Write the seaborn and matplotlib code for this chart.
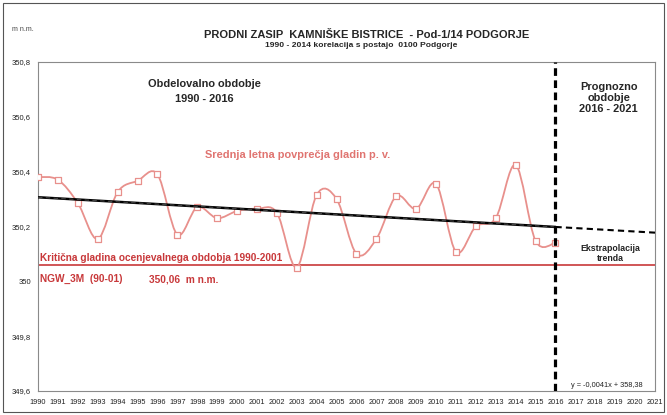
import numpy as np
import pandas as pd
import seaborn as sns
import matplotlib.pyplot as plt
from matplotlib.path import Path
from matplotlib.patches import PathPatch, Rectangle

# data
years = list(range(1990, 2017))
levels = [350.38, 350.37, 350.285, 350.154, 350.325, 350.366, 350.39, 350.17,
          350.27, 350.23, 350.256, 350.264, 350.25, 350.05, 350.315, 350.30,
          350.10, 350.154, 350.31, 350.264, 350.355, 350.107, 350.20, 350.23,
          350.424, 350.147, 350.14]
critical_level = 350.06
split_year = 2016
x_ticks = list(range(1990, 2022))
y_ticks = [349.6, 349.8, 350.0, 350.2, 350.4, 350.6, 350.8]
y_labels = ["349,6", "349,8", "350", "350,2", "350,4", "350,6", "350,8"]

series_color = "#e8908c"
crit_color = "#c8383a"

sns.set_theme(style="white")
plt.rcParams['font.family'] = ['Liberation Sans', 'DejaVu Sans']

df = pd.DataFrame({"year": years, "level": levels})

fig = plt.figure(figsize=(6.67, 4.15), dpi=100)
ax = fig.add_axes([0.057, 0.058, 0.925, 0.793])

# smoothed line (Excel-style bezier through the points)
x = df["year"].to_numpy(float)
y = df["level"].to_numpy(float)
verts = [(x[0], y[0])]
codes = [Path.MOVETO]
for i in range(len(x) - 1):
    xp, yp = (x[i - 1], y[i - 1]) if i > 0 else (x[i], y[i])
    xn, yn = (x[i + 2], y[i + 2]) if i + 2 < len(x) else (x[i + 1], y[i + 1])
    c1 = (x[i] + (x[i + 1] - xp) / 6, y[i] + (y[i + 1] - yp) / 6)
    c2 = (x[i + 1] - (xn - x[i]) / 6, y[i + 1] - (yn - y[i]) / 6)
    verts += [c1, c2, (x[i + 1], y[i + 1])]
    codes += [Path.CURVE4] * 3
ax.add_patch(PathPatch(Path(verts, codes), facecolor="none",
                       edgecolor=series_color, lw=1.3, zorder=3))

sns.scatterplot(data=df, x="year", y="level", ax=ax, marker="s", s=22,
                facecolor="white", edgecolor=series_color, linewidth=0.9,
                zorder=4, legend=False)

# linear trend
slope, intercept = np.polyfit(x, y, 1)
xa = np.array([1990, split_year])
xb = np.array([split_year, 2021])
ax.plot(xa, slope * xa + intercept, color="black", lw=1.8, zorder=5)
ax.plot(xa, slope * xa + intercept, color="#444444", lw=0.8,
        dashes=(4, 3), zorder=5)
ax.plot(xb, slope * xb + intercept, color="black", lw=1.5,
        dashes=(3, 2), zorder=5)

ax.axhline(critical_level, color=crit_color, lw=1.2, zorder=2)
ax.axvline(split_year, color="black", lw=2.3, dashes=(2.4, 1.4), zorder=6)

ax.set_xlim(1990, 2021)
ax.set_ylim(349.6, 350.8)
ax.set_xticks(x_ticks)
ax.set_xticklabels([str(t) for t in x_ticks], fontsize=5.3)
ax.set_yticks(y_ticks)
ax.set_yticklabels(y_labels, fontsize=5.5)
ax.tick_params(axis="both", direction="out", length=3, width=0.6,
               colors="#555555", labelcolor="#222222", pad=2)
ax.tick_params(axis="x", pad=3)
ax.set_xlabel("")
ax.set_ylabel("")
for sp in ax.spines.values():
    sp.set_color("#8a8a8a")
    sp.set_linewidth(0.8)

# annotations
ax.text(0.27, 0.933, "Obdelovalno obdobje", transform=ax.transAxes,
        ha="center", va="center", fontsize=7.9, fontweight="bold")
ax.text(0.27, 0.888, "1990 - 2016", transform=ax.transAxes,
        ha="center", va="center", fontsize=7.9, fontweight="bold")
ax.text(0.925, 0.89, "Prognozno\nobdobje\n2016 - 2021", transform=ax.transAxes,
        ha="center", va="center", fontsize=7.9, fontweight="bold",
        linespacing=1.1)
ax.text(0.927, 0.417, "Ekstrapolacija\ntrenda", transform=ax.transAxes,
        ha="center", va="center", fontsize=6.3, fontweight="bold",
        color="#222222", linespacing=1.1)
ax.text(0.42, 0.717, "Srednja letna povprečja gladin p. v.",
        transform=ax.transAxes, ha="center", va="center", fontsize=7.9,
        fontweight="bold", color="#e07470")
ax.text(0.004, 0.404, "Kritična gladina ocenjevalnega obdobja 1990-2001",
        transform=ax.transAxes, ha="left", va="center", fontsize=7.3,
        fontweight="bold", color=crit_color)
ax.text(0.004, 0.34, "NGW_3M  (90-01)", transform=ax.transAxes,
        ha="left", va="center", fontsize=7.3, fontweight="bold",
        color=crit_color)
ax.text(0.18, 0.34, "350,06  m n.m.", transform=ax.transAxes,
        ha="left", va="center", fontsize=7.3, fontweight="bold",
        color=crit_color)
ax.text(0.922, 0.017, "y = -0,0041x + 358,38", transform=ax.transAxes,
        ha="center", va="center", fontsize=5.3, color="#222222")

fig.text(0.549, 0.916, "PRODNI ZASIP  KAMNIŠKE BISTRICE  - Pod-1/14 PODGORJE",
         ha="center", va="center", fontsize=8.0, fontweight="bold")
fig.text(0.541, 0.891, "1990 - 2014 korelacija s postajo  0100 Podgorje",
         ha="center", va="center", fontsize=6.1, fontweight="bold")
fig.text(0.018, 0.928, "m n.m.", ha="left", va="center", fontsize=5,
         color="#444444")

fig.patches.append(Rectangle((0.005, 0.007), 0.99, 0.986,
                             transform=fig.transFigure, fill=False,
                             edgecolor="#555555", lw=0.8))

fig.savefig("out.png", dpi=100)
